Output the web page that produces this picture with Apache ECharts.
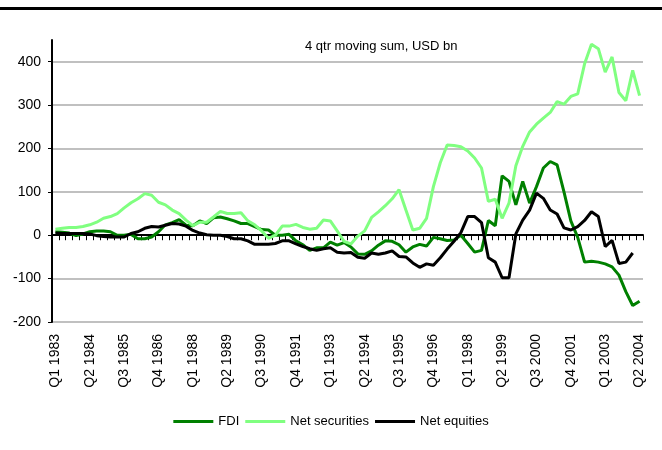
<!DOCTYPE html>
<html>
<head>
<meta charset="utf-8">
<script src="https://cdn.jsdelivr.net/npm/echarts@6/dist/echarts.min.js"></script>
<style>
html, body { margin: 0; padding: 0; background: #fff; }
#main { width: 662px; height: 450px; }
</style>
</head>
<body>
<div id="main"></div>
<script>
(function(){
var myChart = echarts.init(document.getElementById('main'));
var narrow = '"Liberation Sans Narrow", "Liberation Sans", Arial, sans-serif';

// Q1 1983 .. Q2 2004
var quarters = [];
for (var y = 1983; y <= 2004; y++) {
    for (var q = 1; q <= 4; q++) {
        if (y == 2004 && q > 2) break;
        quarters.push('Q' + q + ' ' + y);
    }
}

// 4 qtr moving sum, USD bn
var fdi = [8, 7, 5, -1, 3, 8, 10, 10, 8, 0,
    0, 2, -8, -8, -4, 8, 24, 29, 36, 23,
    22, 33, 27, 40, 42, 38, 33, 27, 27, 20,
    13, 12, 0, 0, 2, -13, -22, -35, -29, -29,
    -16, -23, -17, -27, -43, -44, -36, -23, -13, -14,
    -22, -39, -27, -21, -25, -5, -8, -12, -11, 0,
    -19, -39, -35, 34, 22, 137, 124, 70, 124, 74,
    112, 155, 170, 162, 100, 33, -5, -62, -60, -62,
    -66, -73, -92, -130, -162, -152];

var securities = [14, 16, 18, 18, 20, 24, 30, 39, 43, 50,
    63, 75, 84, 96, 92, 76, 70, 58, 50, 35,
    22, 30, 30, 42, 55, 50, 50, 52, 33, 24,
    10, -7, 0, 21, 21, 25, 18, 14, 16, 35,
    33, 10, -14, -20, -2, 10, 41, 54, 68, 84,
    105, 58, 12, 16, 39, 112, 167, 208, 207, 204,
    194, 178, 155, 78, 83, 39, 74, 160, 205, 238,
    256, 270, 283, 308, 302, 320, 326, 395, 440, 430,
    376, 411, 329, 310, 380, 322];

var equities = [5, 4, 4, 4, 4, 3, -1, -3, -4, -4,
    -4, 4, 8, 16, 20, 19, 23, 27, 26, 21,
    11, 5, 1, 0, 0, -3, -8, -8, -13, -21,
    -21, -21, -19, -13, -13, -20, -26, -31, -35, -31,
    -29, -39, -41, -40, -51, -53, -41, -44, -41, -36,
    -49, -50, -64, -74, -66, -69, -52, -32, -14, 6,
    43, 43, 29, -52, -62, -98, -98, 3, 35, 58,
    97, 85, 58, 49, 17, 12, 20, 34, 54, 43,
    -26, -12, -65, -62, -41, null];

var names = ['FDI', 'Net securities', 'Net equities'];
var colors = ['#008000', '#80ff80', '#000000'];

function lineSeries(idx, data) {
    return {
        name: names[idx],
        type: 'line',
        data: data,
        symbol: 'none',
        lineStyle: { width: 3, color: colors[idx] },
        itemStyle: { color: colors[idx] }
    };
}

option = {
    animation: false,
    title: {
        text: '4 qtr moving sum, USD bn',
        left: 300,
        top: 35,
        textStyle: { fontFamily: narrow, fontSize: 13, fontWeight: 'normal', color: '#000' }
    },
    legend: {
        bottom: 17,
        left: 'center',
        itemWidth: 40,
        itemHeight: 3,
        itemGap: 6,
        icon: 'rect',
        data: names,
        textStyle: { fontFamily: narrow, fontSize: 13, color: '#000' }
    },
    grid: { left: 52, right: 19, top: 40, bottom: 128 },
    xAxis: [{
        type: 'category',
        data: quarters,
        axisLine: { onZero: true, lineStyle: { color: '#000', width: 2 } },
        axisTick: { show: true, interval: 0, length: 5, lineStyle: { color: '#000', width: 1 } },
        axisLabel: { show: false },
        splitLine: { show: false }
    }, {
        type: 'category',
        data: quarters,
        position: 'bottom',
        axisLine: { show: false, onZero: false },
        axisTick: { show: false },
        axisLabel: {
            interval: 4,
            rotate: 90,
            margin: 12,
            fontFamily: '"Liberation Sans", Arial, sans-serif',
            fontSize: 14,
            color: '#000'
        }
    }],
    yAxis: {
        type: 'value',
        min: -200,
        max: 450,
        interval: 100,
        axisLine: { show: true, lineStyle: { color: '#000', width: 2 } },
        axisTick: { show: true, length: 4, lineStyle: { color: '#000' } },
        axisLabel: { showMaxLabel: false, margin: 11, fontFamily: narrow, fontSize: 14, color: '#000' },
        splitLine: { show: true, showMaxLine: false, lineStyle: { color: '#c0c0c0', width: 2 } }
    },
    graphic: [{
        type: 'rect',
        left: 0,
        top: 7,
        shape: { width: 662, height: 3 },
        style: { fill: '#000' }
    }],
    series: [
        lineSeries(0, fdi),
        lineSeries(1, securities),
        lineSeries(2, equities)
    ]
};
myChart.setOption(option);
})();
</script>
</body>
</html>
